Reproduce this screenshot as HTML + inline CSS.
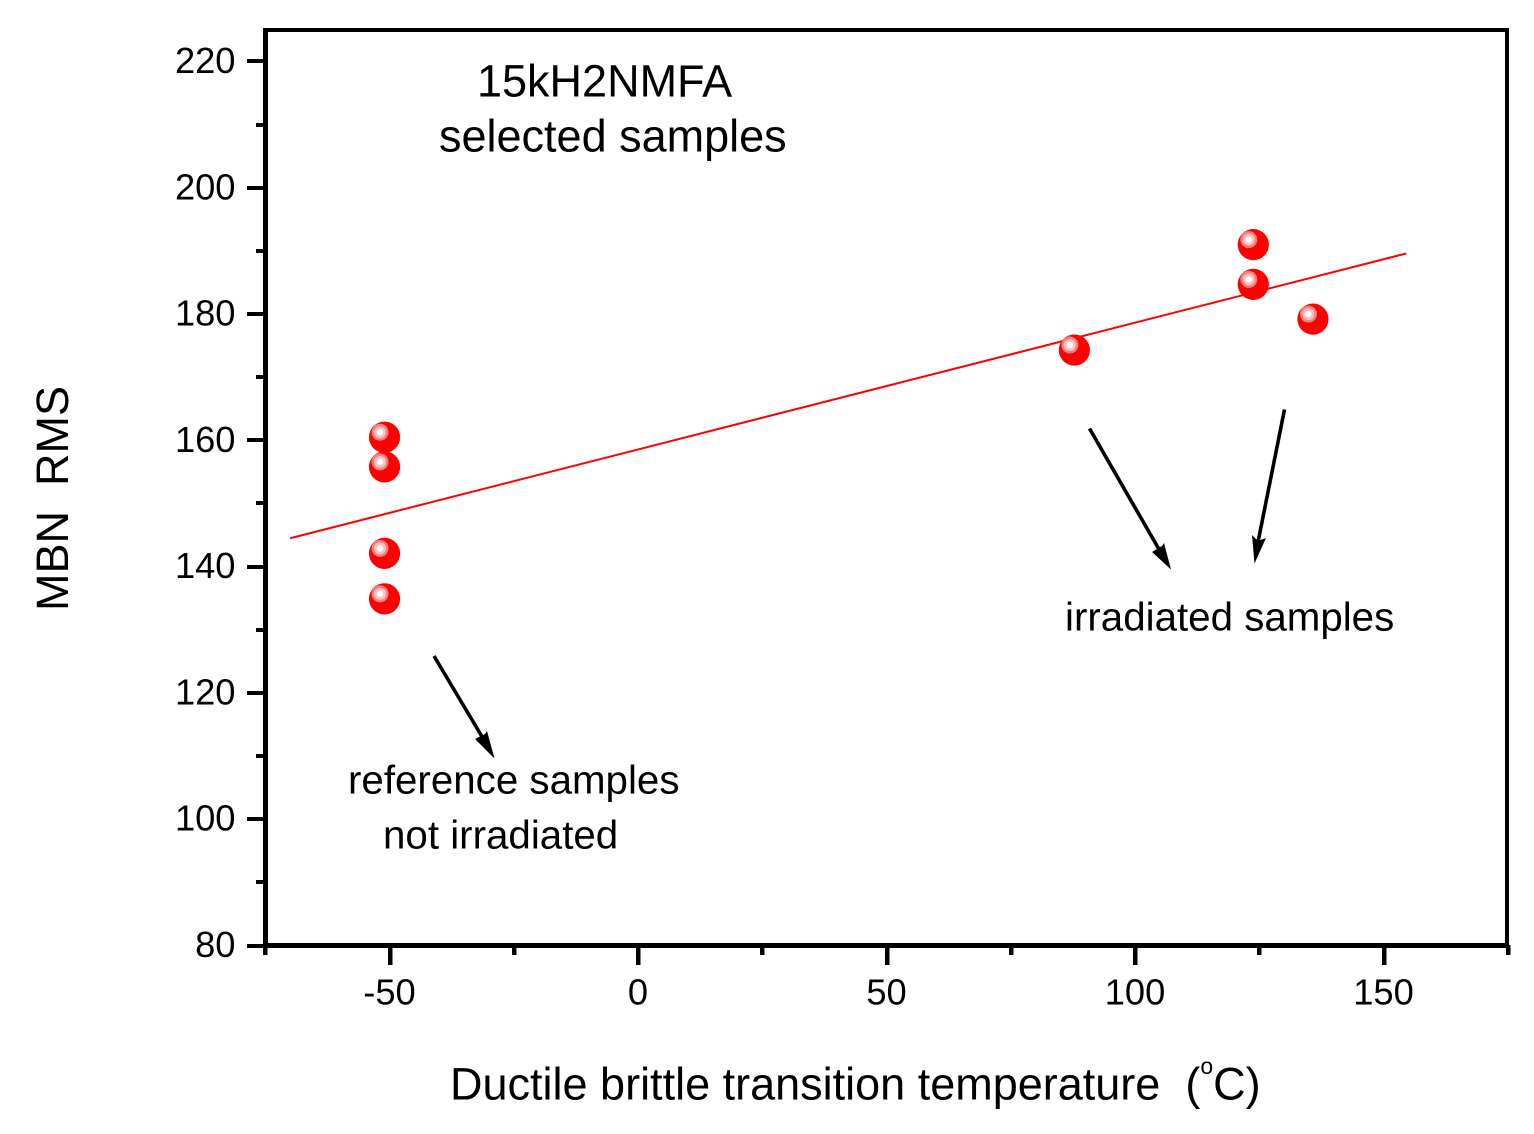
<!DOCTYPE html>
<html lang="en">
<head>
<meta charset="utf-8">
<title>MBN RMS vs ductile brittle transition temperature</title>
<style>
html,body{margin:0;padding:0;background:#fff;width:1534px;height:1134px;overflow:hidden}
svg{display:block}
text{font-family:"Liberation Sans",Arial,sans-serif;fill:#000;white-space:pre}
</style>
</head>
<body>
<svg id="chart" xmlns="http://www.w3.org/2000/svg" width="1534" height="1134" viewBox="0 0 1534 1134">
  <rect x="0" y="0" width="1534" height="1134" fill="#fff"/>
  <g id="fit"></g>
  <g id="points"></g>
  <g id="ticks" shape-rendering="crispEdges"></g>
  <g shape-rendering="crispEdges">
    <rect x="263" y="28" width="5" height="919"/>
    <rect x="1505" y="28" width="4" height="919"/>
    <rect x="263" y="28" width="1245" height="4"/>
    <rect x="263" y="943" width="1246" height="5"/>
  </g>
  <g id="labels"></g>
  <text x="450" y="1099.5" font-size="45">Ductile brittle transition temperature  (<tspan font-size="23" dy="-25.5">o</tspan><tspan dy="25.5">C)</tspan></text>
  <text transform="translate(68,611) rotate(-90)" font-size="45">MBN  RMS</text>
  <text x="477" y="96.5" font-size="45">15kH2NMFA</text>
  <text x="439" y="151.5" font-size="45">selected samples</text>
  <text x="1065" y="630.5" font-size="40.3">irradiated samples</text>
  <text x="348" y="793.5" font-size="40.3">reference samples</text>
  <text x="383" y="848.5" font-size="40.3">not irradiated</text>
  <g>
    <g>
      <line x1="1089.5" y1="428.5" x2="1160" y2="551" stroke="#000" stroke-width="3.6"/>
      <polygon points="1171,569.5 1152,552 1162,546 1164,543" fill="#000"/>
    </g>
    <g>
      <line x1="1284.5" y1="409.5" x2="1258" y2="542" stroke="#000" stroke-width="3.6"/>
      <polygon points="1254.5,563.5 1252,535 1258,541 1266,538" fill="#000"/>
    </g>
    <g>
      <line x1="434" y1="656" x2="484" y2="740" stroke="#000" stroke-width="3.6"/>
      <polygon points="494.5,758.5 475,739 485,734 487,731" fill="#000"/>
    </g>
  </g>
</svg>
<script>
const xMajorTicks = [-50, 0, 50, 100, 150];
const xMinorTicks = [-75, -25, 25, 75, 125, 175];
const yMajorTicks = [80, 100, 120, 140, 160, 180, 200, 220];
const yMinorTicks = [90, 110, 130, 150, 170, 190, 210];
const sampleTemperatures = [-51, -51, -51, -51, 87.8, 123.8, 123.8, 135.8];
const sampleRms = [160.5, 155.8, 142.1, 134.9, 174.3, 191, 184.7, 179.2];
const fitTemperatures = [-70, 154.6];
const fitRms = [144.5, 189.6];

const SVG_NS = 'http://www.w3.org/2000/svg';
function xScale(v) { return 638 + (v - 0) * 4.97; }
function yScale(v) { return 945.5 - (v - 80) * 6.3143; }
function make(tag, attrs, parent) {
  const el = document.createElementNS(SVG_NS, tag);
  Object.keys(attrs).forEach(function (k) { el.setAttribute(k, attrs[k]); });
  parent.appendChild(el);
  return el;
}

const fitLayer = document.getElementById('fit');
const fitPoints = fitTemperatures.map(function (t, i) { return xScale(t) + ',' + yScale(fitRms[i]); }).join(' ');
const fitLine = make('polyline', { points: fitPoints, fill: 'none', stroke: '#ff0000', 'stroke-width': 2 }, fitLayer);



const pointLayer = document.getElementById('points');
sampleTemperatures.forEach(function (t, i) {
  const cx = xScale(t);
  const cy = yScale(sampleRms[i]);
  const g = make('g', {}, pointLayer);
  
  
  make('circle', { cx: cx, cy: cy, r: 15.6, fill: '#ff0000' }, g);
  make('circle', { cx: cx - 4.5, cy: cy - 5, r: 8.5, fill: '#ff7f7f' }, g);
  make('circle', { cx: cx - 4.5, cy: cy - 5, r: 6, fill: '#ffbfbf' }, g);
  make('circle', { cx: cx - 4.5, cy: cy - 5, r: 3.2, fill: '#ffffff' }, g);
});

const tickLayer = document.getElementById('ticks');
const labelLayer = document.getElementById('labels');
xMajorTicks.forEach(function (v) {
  const x = xScale(v);
  const tick = make('rect', { x: Math.round(x - 2), y: 945, width: 4.5, height: 20 }, tickLayer);
  
  
  const label = make('text', { x: x, y: 1004.5, 'font-size': 36.3, 'text-anchor': 'middle' }, labelLayer);
  
  
  label.textContent = String(v);
});
xMinorTicks.forEach(function (v) {
  const x = xScale(v);
  const tick = make('rect', { x: Math.round(x - 2), y: 945, width: 4.5, height: 10 }, tickLayer);
  
  
});
yMajorTicks.forEach(function (v) {
  const y = yScale(v);
  const tick = make('rect', { x: 247, y: Math.round(y - 2), width: 19, height: 4 }, tickLayer);
  
  
  const label = make('text', { x: 235.5, y: y + 11.5, 'font-size': 36.3, 'text-anchor': 'end' }, labelLayer);
  
  
  label.textContent = String(v);
});
yMinorTicks.forEach(function (v) {
  const y = yScale(v);
  const tick = make('rect', { x: 256, y: Math.round(y - 2), width: 10, height: 4 }, tickLayer);
  
  
});
</script>
</body>
</html>
